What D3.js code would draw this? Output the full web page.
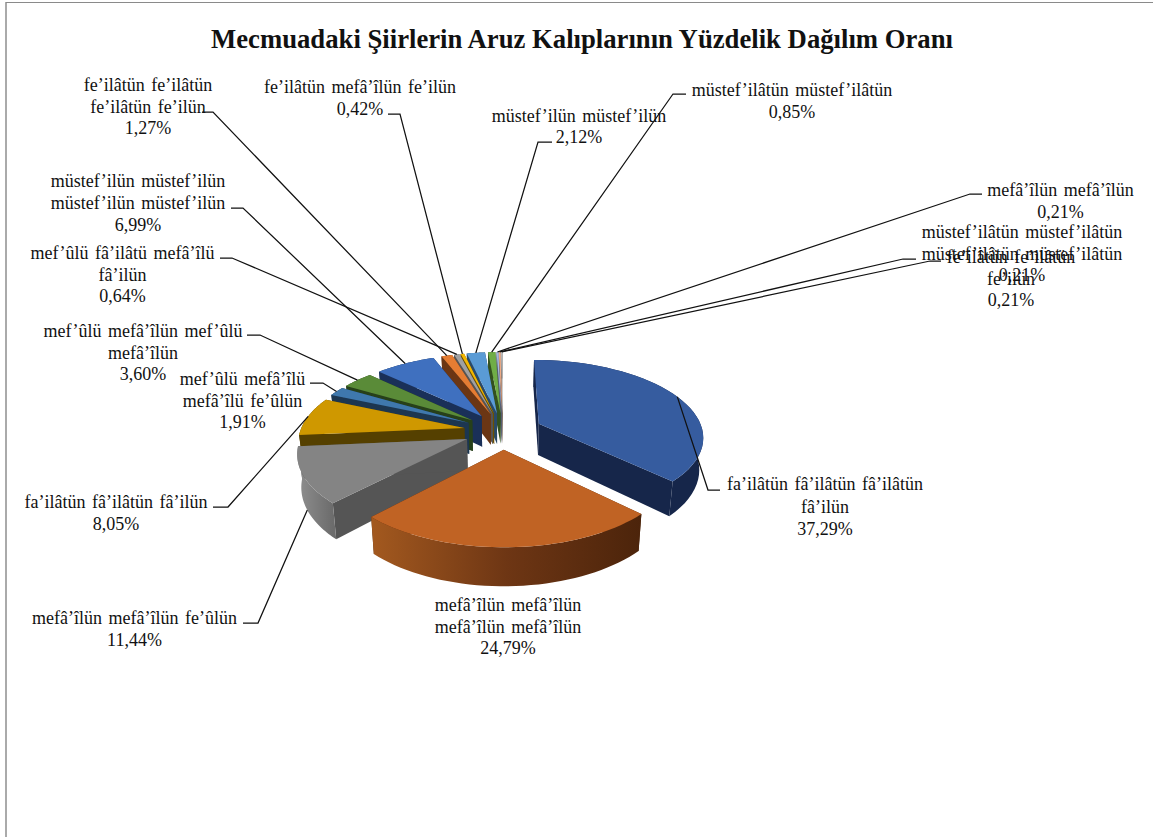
<!DOCTYPE html>
<html>
<head>
<meta charset="utf-8">
<script src="https://cdn.jsdelivr.net/npm/d3@7"></script>
<style>
  html, body { margin: 0; padding: 0; background: #fff; }
  svg { display: block; }
  text { font-family: "Liberation Serif", "Times New Roman", serif; fill: #111; }
</style>
</head>
<body>
<div id="chart"></div>
<script>
const widthChart = 1153;
const heightChart = 837;

const chartTitle = "Mecmuadaki Şiirlerin Aruz Kalıplarının Yüzdelik Dağılım Oranı";

const sliceValues = [37.29, 24.79, 11.44, 8.05, 1.91, 3.6, 6.99, 1.27, 0.64, 0.42, 2.12, 0.85, 0.21, 0.21, 0.21];
const valueLabels = ["37,29%", "24,79%", "11,44%", "8,05%", "1,91%", "3,60%", "6,99%", "1,27%", "0,64%", "0,42%", "2,12%", "0,85%", "0,21%", "0,21%", "0,21%"];
const sliceNames = [
  ["fa’ilâtün fâ’ilâtün fâ’ilâtün", "fâ’ilün"],
  ["mefâ’îlün mefâ’îlün", "mefâ’îlün mefâ’îlün"],
  ["mefâ’îlün mefâ’îlün fe’ûlün"],
  ["fa’ilâtün fâ’ilâtün fâ’ilün"],
  ["mef’ûlü mefâ’îlü", "mefâ’îlü fe’ûlün"],
  ["mef’ûlü mefâ’îlün mef’ûlü", "mefâ’îlün"],
  ["müstef’ilün müstef’ilün", "müstef’ilün müstef’ilün"],
  ["fe’ilâtün fe’ilâtün", "fe’ilâtün fe’ilün"],
  ["mef’ûlü fâ’ilâtü mefâ’îlü", "fâ’ilün"],
  ["fe’ilâtün mefâ’îlün fe’ilün"],
  ["müstef’ilün müstef’ilün"],
  ["müstef’ilâtün müstef’ilâtün"],
  ["mefâ’îlün mefâ’îlün"],
  ["müstef’ilâtün müstef’ilâtün", "müstef’ilâtün müstef’ilâtün"],
  ["fe’ilâtün fe’ilâtün", "fe’ilün"],
];

// slice look, same order as the values
const topColors = ["#365c9f", "#c06324", "#848484", "#cf9800", "#3f78ad", "#5a8b38", "#3f70bf", "#e57d33", "#a0a0a0", "#f2b600", "#5a9bd5", "#70ad47", "#a5b9de", "#f0ab85", "#bdbdbd"];
const wallColors = ["#16264a", "#4e260c", "#555555", "#554000", "#1c3650", "#27401a", "#1a3058", "#6b3614", "#555555", "#6b5000", "#2a4a68", "#33511f", "#555f75", "#7a5540", "#666666"];
const rimStops = { 1: ["#a3591f", "#6e3614", "#4c240b"], 2: ["#8f8f8f", "#6c6c6c"] };

// label layout: text centre, baseline of first line, line step, leader tick and elbow
// tick is [far x, elbow x, y]; the other end of the leader comes from the slice rim
const labelLayout = [
  { x: 825, y: 490, step: 22.5, tick: [720, 708, 490] },
  { x: 508, y: 611, step: 21.5 },
  { x: 134.5, y: 624, step: 22, tick: [243, 258, 623], low: true },
  { x: 116, y: 508, step: 22, tick: [213, 228, 507] },
  { x: 242.5, y: 385, step: 21.5, tick: [310, 323, 383] },
  { x: 143, y: 337, step: 21.5, tick: [247, 260, 335] },
  { x: 138, y: 187, step: 22, tick: [231, 243, 208] },
  { x: 148, y: 91, step: 21.5, tick: [202, 213, 112] },
  { x: 122.5, y: 259, step: 21.5, tick: [220, 232, 258] },
  { x: 360, y: 93, step: 22, tick: [388, 400, 114] },
  { x: 579, y: 122, step: 21, tick: [552, 538, 142] },
  { x: 792, y: 96, step: 22, tick: [686, 673, 94] },
  { x: 1060.5, y: 196, step: 22, tick: [982, 970, 194] },
  { x: 1022, y: 238, step: 21.5, tick: [916, 903, 259] },
  { x: 1011, y: 263, step: 21.5, tick: [941, 930, 261] },
];

const explode = 0.24;
const perspective = 0.155;
const depth = 31.5;
const bottomShrink = 0.98;

const xScale = d3.scaleLinear().domain([-1, 1]).range([339, 667]);
const yScale = d3.scaleLinear().domain([-1, 1]).range([355, 506.7]);

const svg = d3
  .select("#chart")
  .append("svg")
  .attr("width", widthChart)
  .attr("height", heightChart);
const defs = svg.append("defs");

// chart area frame, only top and left are inside the window
svg.append("line").attr("x1", 6).attr("x2", 6).attr("y1", 2).attr("y2", heightChart).attr("stroke", "#aaa").attr("stroke-width", 2);
svg.append("line").attr("x1", 6).attr("x2", widthChart).attr("y1", 2.5).attr("y2", 2.5).attr("stroke", "#8a8a8a").attr("stroke-width", 1.2);

svg
  .append("text")
  .attr("x", 582)
  .attr("y", 48)
  .attr("text-anchor", "middle")
  .style("font-size", "26.7px")
  .style("font-weight", "bold")
  .text(chartTitle);

const pieData = d3.pie().sort(null).value((d) => d)(sliceValues);

// plane point of slice d at angle a (clockwise from north), r = 0 gives the tip
function project(d, a, r, low) {
  const mid = (d.startAngle + d.endAngle) / 2;
  const px = explode * Math.sin(mid) + r * Math.sin(a);
  const py = -explode * Math.cos(mid) - r * Math.cos(a);
  const s = 1 / (1 - perspective * py);
  const x = xScale(px * s);
  const y = yScale(py * s);
  if (!low) return [x, y];
  const cx = xScale(0);
  return [cx + (x - cx) * bottomShrink, y + depth * s];
}

function arcPoints(d, low) {
  return d3.range(0, 41).map((i) => project(d, d.startAngle + ((d.endAngle - d.startAngle) * i) / 40, 1, low));
}

const pathLine = d3.line();

const pieGroup = svg.append("g");

// back slices first so the near ones cover them
const drawOrder = pieData
  .map((d, i) => ({ d, i, back: project(d, 0, 0)[1] }))
  .sort((a, b) => a.back - b.back);

drawOrder.forEach(({ d, i }) => {
  const g = pieGroup.append("g");
  const tipTop = project(d, 0, 0);
  const tipLow = project(d, 0, 0, true);
  const rimTop = arcPoints(d);
  const rimLow = arcPoints(d, true);

  let rimFill = wallColors[i];
  if (rimStops[i]) {
    const xs = rimTop.map((p) => p[0]);
    const grad = defs
      .append("linearGradient")
      .attr("id", "rim" + i)
      .attr("gradientUnits", "userSpaceOnUse")
      .attr("x1", d3.min(xs))
      .attr("x2", d3.max(xs))
      .attr("y1", 0)
      .attr("y2", 0);
    rimStops[i].forEach((c, k) => {
      grad.append("stop").attr("offset", k / (rimStops[i].length - 1)).attr("stop-color", c);
    });
    rimFill = "url(#rim" + i + ")";
  }

  // radial walls
  [[rimTop[0], rimLow[0]], [rimTop[40], rimLow[40]]].forEach(([a, b]) => {
    g.append("path")
      .attr("d", pathLine([tipTop, a, b, tipLow]) + "Z")
      .attr("fill", wallColors[i]);
  });
  // outer wall
  g.append("path")
    .attr("d", pathLine(rimTop.concat(rimLow.slice().reverse())) + "Z")
    .attr("fill", rimFill);
  // top face
  g.append("path")
    .attr("d", pathLine([tipTop].concat(rimTop)) + "Z")
    .attr("fill", topColors[i]);
});

// leader lines and labels
const leaderGroup = svg.append("g");
const labelGroup = svg.append("g");

pieData.forEach((d, i) => {
  const layout = labelLayout[i];
  if (layout.tick) {
    const [farX, elbowX, tickY] = layout.tick;
    const mid = (d.startAngle + d.endAngle) / 2;
    const anchor = project(d, mid, 1, layout.low);
    leaderGroup
      .append("path")
      .attr("d", pathLine([[farX, tickY], [elbowX, tickY], anchor]))
      .attr("fill", "none")
      .attr("stroke", "#111")
      .attr("stroke-width", 1.25);
  }
  const lines = sliceNames[i].concat([valueLabels[i]]);
  labelGroup
    .selectAll(null)
    .data(lines)
    .enter()
    .append("text")
    .attr("x", layout.x)
    .attr("y", (l, k) => layout.y + k * layout.step)
    .attr("text-anchor", "middle")
    .style("font-size", "18px")
    .style("word-spacing", "2px")
    .text((l) => l);
});
</script>
</body>
</html>
